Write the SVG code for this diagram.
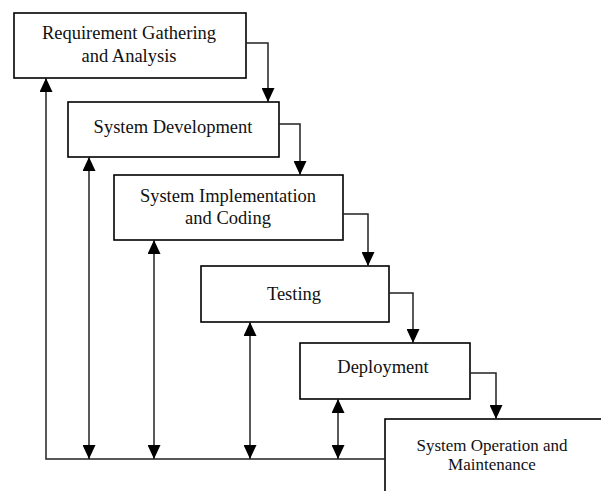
<svg xmlns="http://www.w3.org/2000/svg" width="601" height="491" viewBox="0 0 601 491">
<defs>
<style>
.box{fill:#fff;stroke:#000;stroke-width:1.6}
.lbl{font-family:"Liberation Serif","Times New Roman",serif;font-size:18.5px;fill:#111;text-anchor:middle}
.sm{font-size:17px}
.con{fill:none;stroke:#222;stroke-width:1.5}
</style>
<marker id="ah" viewBox="0 0 14 13" refX="14" refY="6.5" markerWidth="14" markerHeight="13" markerUnits="userSpaceOnUse" orient="auto-start-reverse">
<path d="M0,0 L14,6.5 L0,13 z" fill="#000"/>
</marker>
</defs>
<rect width="601" height="491" fill="#fff"/>
<g id="n1">
<rect class="box" x="14" y="13" width="232" height="65"/>
<text class="lbl" x="129" y="39">Requirement Gathering</text>
<text class="lbl" x="129" y="62">and Analysis</text>
</g>
<g id="n2">
<rect class="box" x="68" y="102" width="211" height="55"/>
<text class="lbl" x="173" y="133">System Development</text>
</g>
<g id="n3">
<rect class="box" x="114" y="175" width="229" height="65"/>
<text class="lbl" x="228" y="202">System Implementation</text>
<text class="lbl" x="228" y="224">and Coding</text>
</g>
<g id="n4">
<rect class="box" x="201" y="266" width="188" height="56"/>
<text class="lbl" x="294" y="300">Testing</text>
</g>
<g id="n5">
<rect class="box" x="300" y="343" width="170" height="56"/>
<text class="lbl" x="383" y="373">Deployment</text>
</g>
<g id="n6">
<rect class="box" x="385" y="419" width="230" height="90"/>
<text class="lbl sm" x="492" y="451">System Operation and</text>
<text class="lbl sm" x="492" y="470">Maintenance</text>
</g>
<g id="connectors">
<polyline class="con" points="246,43 268,43 268,102" marker-end="url(#ah)"/>
<polyline class="con" points="279,124 300,124 300,175" marker-end="url(#ah)"/>
<polyline class="con" points="343,214 368,214 368,266" marker-end="url(#ah)"/>
<polyline class="con" points="389,293 413,293 413,343" marker-end="url(#ah)"/>
<polyline class="con" points="470,373 496,373 496,419" marker-end="url(#ah)"/>
<polyline class="con" points="385,459 46,459 46,78" marker-end="url(#ah)"/>
<line class="con" x1="89" y1="157" x2="89" y2="459" marker-start="url(#ah)" marker-end="url(#ah)"/>
<line class="con" x1="154" y1="240" x2="154" y2="459" marker-start="url(#ah)" marker-end="url(#ah)"/>
<line class="con" x1="250" y1="322" x2="250" y2="459" marker-start="url(#ah)" marker-end="url(#ah)"/>
<line class="con" x1="338" y1="399" x2="338" y2="459" marker-start="url(#ah)" marker-end="url(#ah)"/>
</g>
</svg>
